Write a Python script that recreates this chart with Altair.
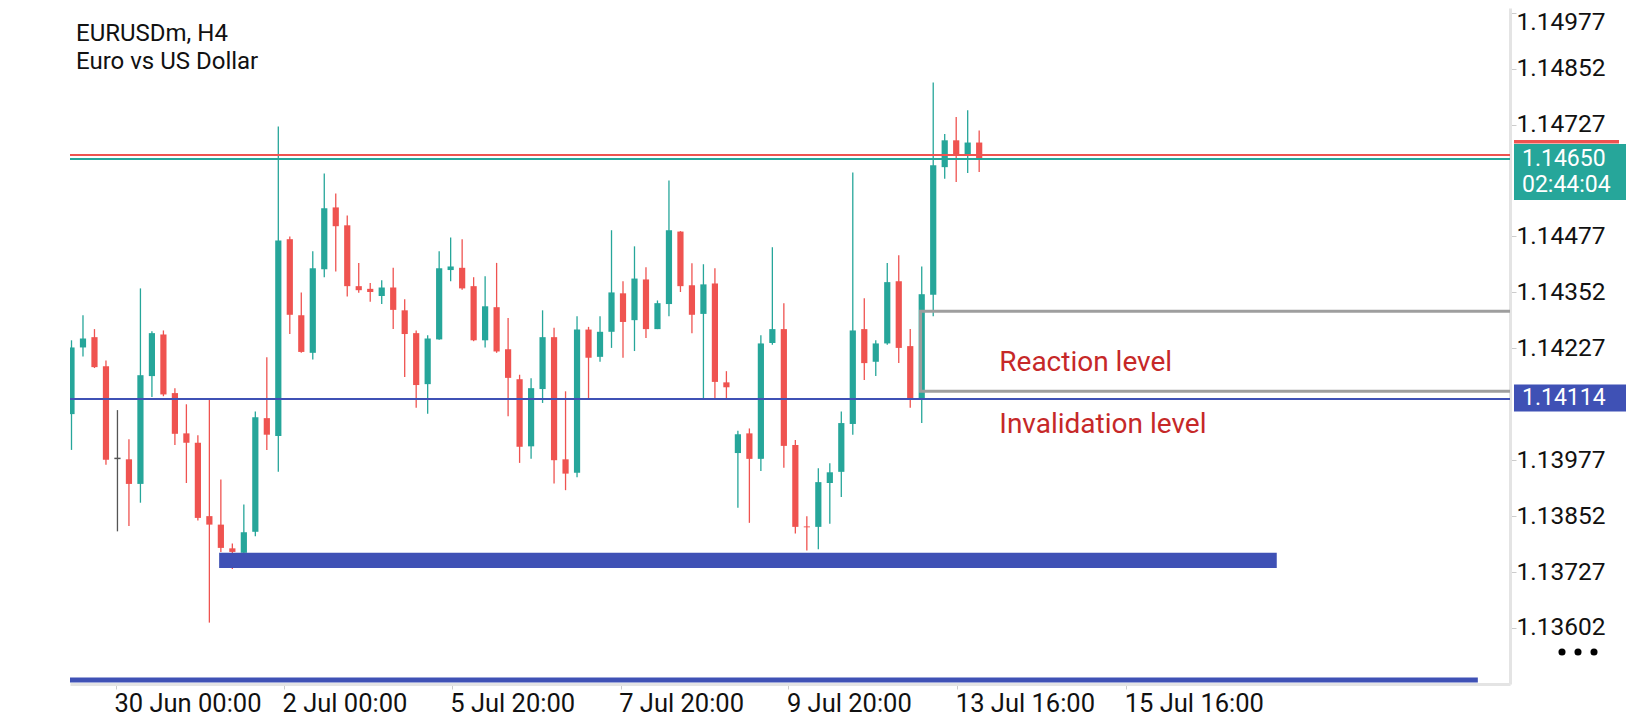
import altair as alt
import pandas as pd

# ---------------- data ----------------
symbol_line = "EURUSDm, H4"
desc_line = "Euro vs US Dollar"

opens = [1.14080, 1.14229, 1.14252, 1.14187, 1.13981, 1.13979, 1.13924, 1.14165, 1.14258, 1.14127,
         1.14037, 1.14016, 1.13852, 1.13833, 1.13780, 1.13770, 1.13817, 1.14071, 1.14031, 1.14471,
         1.14301, 1.14217, 1.14404, 1.14542, 1.14502, 1.14366, 1.14360, 1.14344, 1.14363, 1.14312,
         1.14261, 1.14147, 1.14247, 1.14402, 1.14407, 1.14366, 1.14245, 1.14319, 1.14225, 1.14158,
         1.14008, 1.14136, 1.14252, 1.13979, 1.13949, 1.14269, 1.14208, 1.14264, 1.14350, 1.14290,
         1.14381, 1.14270, 1.14326, 1.14488, 1.14368, 1.14304, 1.14372, 1.14151, 1.13993, 1.14037,
         1.13980, 1.14239, 1.14270, 1.14011, 1.13829, 1.13828, 1.13926, 1.13951, 1.14058, 1.14270,
         1.14197, 1.14238, 1.14377, 1.14232, 1.14115, 1.14347, 1.14632, 1.14692, 1.14659, 1.14687]

highs = [1.14245, 1.14301, 1.14270, 1.14200, 1.14089, 1.14024, 1.14361, 1.14265, 1.14267, 1.14138,
         1.14102, 1.14033, 1.14112, 1.13934, 1.13791, 1.13878, 1.14086, 1.14207, 1.14723, 1.14477,
         1.14352, 1.14444, 1.14618, 1.14573, 1.14524, 1.14418, 1.14373, 1.14379, 1.14407, 1.14337,
         1.14267, 1.14256, 1.14444, 1.14475, 1.14471, 1.14386, 1.14388, 1.14418, 1.14295, 1.14168,
         1.14160, 1.14312, 1.14273, 1.14131, 1.14299, 1.14275, 1.14299, 1.14491, 1.14377, 1.14455,
         1.14408, 1.14334, 1.14602, 1.14489, 1.14417, 1.14415, 1.14406, 1.14176, 1.14043, 1.14048,
         1.14256, 1.14453, 1.14328, 1.14022, 1.13852, 1.13959, 1.13970, 1.14086, 1.14620, 1.14339,
         1.14245, 1.14418, 1.14435, 1.14270, 1.14410, 1.14821, 1.14706, 1.14744, 1.14759, 1.14714]

lows = [1.14000, 1.14209, 1.14183, 1.13967, 1.13818, 1.13830, 1.13882, 1.14118, 1.14120, 1.14011,
        1.13926, 1.13842, 1.13614, 1.13772, 1.13734, 1.13760, 1.13807, 1.14000, 1.13951, 1.14259,
        1.14217, 1.14202, 1.14386, 1.14399, 1.14343, 1.14351, 1.14331, 1.14326, 1.14270, 1.14163,
        1.14094, 1.14081, 1.14246, 1.14377, 1.14358, 1.14243, 1.14229, 1.14217, 1.14075, 1.13971,
        1.13980, 1.14105, 1.13925, 1.13910, 1.13939, 1.14114, 1.14197, 1.14228, 1.14206, 1.14221,
        1.14250, 1.14270, 1.14299, 1.14353, 1.14261, 1.14114, 1.14114, 1.14114, 1.13871, 1.13837,
        1.13953, 1.14235, 1.13960, 1.13813, 1.13775, 1.13778, 1.13835, 1.13895, 1.14034, 1.14156,
        1.14165, 1.14235, 1.14194, 1.14094, 1.14060, 1.14299, 1.14606, 1.14599, 1.14619, 1.14621]

closes = [1.14229, 1.14249, 1.14185, 1.13978, 1.13981, 1.13924, 1.14167, 1.14261, 1.14124, 1.14036,
          1.14016, 1.13848, 1.13833, 1.13781, 1.13772, 1.13816, 1.14073, 1.14034, 1.14468, 1.14302,
          1.14219, 1.14406, 1.14540, 1.14500, 1.14366, 1.14357, 1.14353, 1.14363, 1.14313, 1.14259,
          1.14145, 1.14249, 1.14406, 1.14410, 1.14361, 1.14245, 1.14321, 1.14220, 1.14161, 1.14007,
          1.14138, 1.14252, 1.13977, 1.13947, 1.14269, 1.14206, 1.14264, 1.14352, 1.14286, 1.14383,
          1.14270, 1.14328, 1.14491, 1.14366, 1.14302, 1.14370, 1.14152, 1.14140, 1.14035, 1.13980,
          1.14238, 1.14270, 1.14009, 1.13828, 1.13827, 1.13928, 1.13950, 1.14060, 1.14267, 1.14194,
          1.14238, 1.14375, 1.14228, 1.14115, 1.14348, 1.14636, 1.14692, 1.14659, 1.14687, 1.14650]

# time axis labels and the bar index they sit at
x_tick_labels = ["30 Jun 00:00", "2 Jul 00:00", "5 Jul 20:00", "7 Jul 20:00",
                 "9 Jul 20:00", "13 Jul 16:00", "15 Jul 16:00"]
x_tick_pos = [3.87, 18.5, 33.1, 47.8, 62.4, 77.1, 91.8]

# price axis labels (the two hidden behind price tags are left out)
y_ticks = [1.13602, 1.13727, 1.13852, 1.13977, 1.14227, 1.14352,
           1.14477, 1.14727, 1.14852, 1.14977]

bid_price = 1.14650
ask_price = 1.14659
level_price = 1.14114
countdown = "02:44:04"

zone_top, zone_bottom = 1.13770, 1.13736
zone_from, zone_to = 12.85, 104.9

box_top, box_bottom = 1.14310, 1.14131
box_from = 73.9

low_line_price = 1.13486
low_line_to = 122.4

notes = ["Reaction level", "Invalidation level"]
notes_price = [1.14195, 1.14056]
notes_x = [80.75, 80.75]

x_domain = [-0.13, 125.2]
y_domain = [1.134768, 1.149877]

# ---------------- styles ----------------
UP, DOWN, DOJI = "#26a69a", "#ef5350", "#555555"
BLUE = "#3f51b5"
FONT = "Roboto"

df = pd.DataFrame({"i": list(range(len(opens))), "open": opens, "high": highs,
                   "low": lows, "close": closes})
df["dir"] = ["up" if c > o else ("down" if c < o else "doji") for o, c in zip(opens, closes)]
df["x0"] = df["i"] - 0.27
df["x1"] = df["i"] + 0.27

label_expr = ""
for p, t in zip(x_tick_pos, x_tick_labels):
    label_expr += f"datum.value == {p} ? '{t}' : "
label_expr += "''"

xs = alt.Scale(domain=x_domain, nice=False, zero=False)
ys = alt.Scale(domain=y_domain, nice=False, zero=False)

xaxis = alt.Axis(values=x_tick_pos, labelExpr=label_expr, title=None, orient="bottom",
                 grid=False, domainColor="#e4e4e4", domainWidth=3, tickColor="#cccccc",
                 tickSize=5, tickWidth=1, labelAlign="left", labelBaseline="top",
                 labelPadding=2, labelOffset=-2, labelFontSize=25.5, labelFont=FONT,
                 labelColor="#111111", labelFlush=False, labelOverlap=False)

yaxis = alt.Axis(values=y_ticks, format=".5f", title=None, orient="right", grid=False,
                 domainColor="#e4e4e4", domainWidth=3, tickColor="#cccccc", tickSize=6,
                 tickWidth=1, labelPadding=0, labelFontSize=24.5, labelFont=FONT,
                 labelColor="#111111", labelOverlap=False, labelAlign="left",
                 labelBaseline="middle",
                 labelOffset={"condition": {"test": "datum.value > 1.1497", "value": 10},
                              "value": 0})


def X(f):
    return alt.X(f, type="quantitative", scale=xs, axis=xaxis)


def Y(f):
    return alt.Y(f, type="quantitative", scale=ys, axis=yaxis)


color_enc = alt.Color("dir:N", scale=alt.Scale(domain=["up", "down", "doji"],
                                               range=[UP, DOWN, DOJI]), legend=None)

base = alt.Chart(df)
wicks = base.mark_rule(strokeWidth=1.3, clip=True).encode(
    x=X("i"), y=Y("low"), y2="high", color=color_enc)
bodies = base.mark_rect(clip=True).encode(
    x=X("x0"), x2="x1", y=Y("open"), y2="close", color=color_enc)
doji = base.transform_filter("datum.dir == 'doji'").mark_rule(strokeWidth=1.5).encode(
    x=X("x0"), x2="x1", y=Y("open"), color=color_enc)


def hline(price, color, width):
    return alt.Chart(pd.DataFrame({"p": [price]})).mark_rule(
        color=color, strokeWidth=width).encode(y=Y("p"))


ask_line = hline(ask_price, DOWN, 2)
bid_line = hline(bid_price, UP, 2)
level_line = hline(level_price, BLUE, 2)

zone = alt.Chart(pd.DataFrame({"x0": [zone_from], "x1": [zone_to],
                               "y0": [zone_top], "y1": [zone_bottom]})).mark_rect(
    color=BLUE, clip=True).encode(x=X("x0"), x2="x1", y=Y("y0"), y2="y1")

low_line = alt.Chart(pd.DataFrame({"x0": [x_domain[0]], "x1": [low_line_to],
                                   "p": [low_line_price]})).mark_rule(
    color=BLUE, strokeWidth=5, clip=True).encode(x=X("x0"), x2="x1", y=Y("p"))

box = alt.Chart(pd.DataFrame({"x0": [box_from], "x1": [x_domain[1] + 20],
                              "y0": [box_top], "y1": [box_bottom]})).mark_rect(
    fill="#ffffff", fillOpacity=0, stroke="#9e9e9e", strokeWidth=3, clip=True).encode(
    x=X("x0"), x2="x1", y=Y("y0"), y2="y1")

note_text = alt.Chart(pd.DataFrame({"x": notes_x, "p": notes_price, "t": notes})).mark_text(
    align="left", baseline="middle", font=FONT, fontSize=28, color="#c62828").encode(
    x=X("x"), y=Y("p"), text="t:N")

# header (positions are relative to the plot area's top-left corner)
header1 = alt.Chart(pd.DataFrame({"t": [symbol_line]})).mark_text(
    align="left", baseline="middle", font=FONT, fontSize=24, color="#111111").encode(
    x=alt.value(6), y=alt.value(26), text="t:N")
header2 = alt.Chart(pd.DataFrame({"t": [desc_line]})).mark_text(
    align="left", baseline="middle", font=FONT, fontSize=24, color="#111111").encode(
    x=alt.value(6), y=alt.value(54), text="t:N")

# price tags on the right of the price axis
one = pd.DataFrame({"a": [0]})
ask_tag = alt.Chart(one).mark_rect(color=DOWN).encode(
    x=alt.value(1444), x2=alt.value(1549), y=alt.value(132), y2=alt.value(135.5))
bid_tag = alt.Chart(one).mark_rect(color=UP).encode(
    x=alt.value(1444), x2=alt.value(1556), y=alt.value(136), y2=alt.value(192))
bid_txt = alt.Chart(pd.DataFrame({"t": [f"{bid_price:.5f}"]})).mark_text(
    align="left", baseline="middle", font=FONT, fontSize=23, color="#ffffff").encode(
    x=alt.value(1452), y=alt.value(151), text="t:N")
cd_txt = alt.Chart(pd.DataFrame({"t": [countdown]})).mark_text(
    align="left", baseline="middle", font=FONT, fontSize=23, color="#ffffff").encode(
    x=alt.value(1452), y=alt.value(177), text="t:N")
lvl_tag = alt.Chart(one).mark_rect(color=BLUE).encode(
    x=alt.value(1444), x2=alt.value(1556), y=alt.value(376.5), y2=alt.value(403.5))
lvl_txt = alt.Chart(pd.DataFrame({"t": [f"{level_price:.5f}"]})).mark_text(
    align="left", baseline="middle", font=FONT, fontSize=23, color="#ffffff").encode(
    x=alt.value(1452), y=alt.value(390), text="t:N")

dots = [alt.Chart(one).mark_circle(color="#000000", size=50, opacity=1).encode(
    x=alt.value(dx), y=alt.value(644)) for dx in (1492, 1508, 1524)]

chart = alt.layer(
    wicks, bodies, doji, ask_line, bid_line, level_line, zone, low_line, box,
    note_text, header1, header2, ask_tag, bid_tag, bid_txt, cd_txt, lvl_tag, lvl_txt,
    *dots
).properties(
    width=1440, height=676,
    padding={"left": 62, "top": 0, "right": 122, "bottom": 36},
    autosize=alt.AutoSizeParams(type="none"),
    background="#ffffff",
).configure_view(stroke="transparent")

chart.save("out.html", embed_options={"renderer": "svg", "actions": False})
